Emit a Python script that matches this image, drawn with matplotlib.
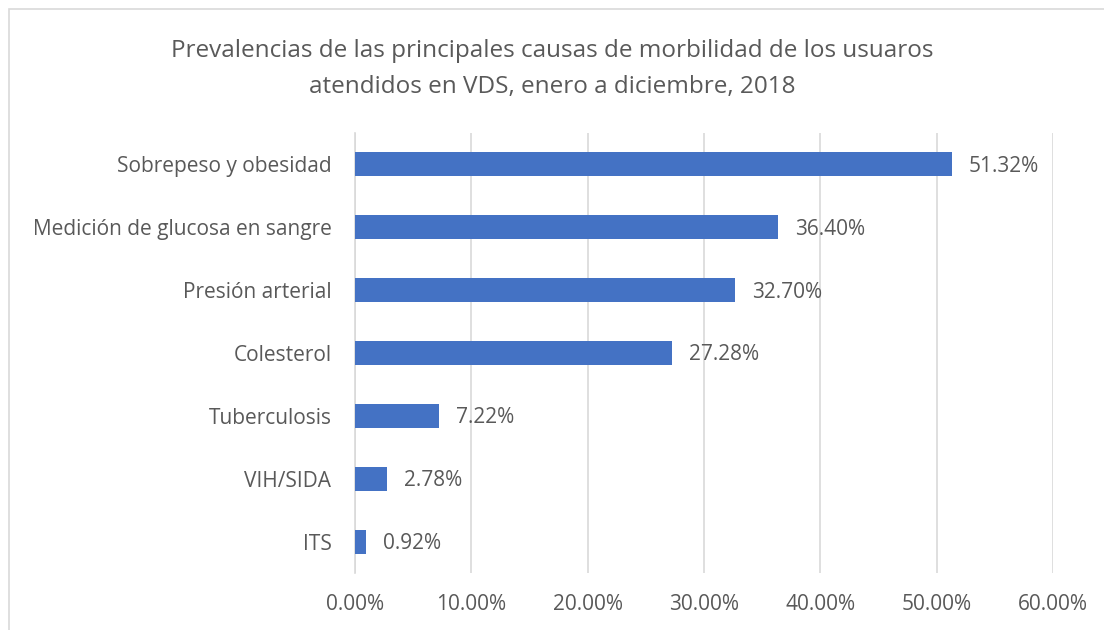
import matplotlib.pyplot as plt
from matplotlib.patches import Rectangle

# - DATA - #
causes = ["Sobrepeso y obesidad", "Medición de glucosa en sangre", "Presión arterial",
          "Colesterol", "Tuberculosis", "VIH/SIDA", "ITS"]
prevalence = [51.32, 36.40, 32.70, 27.28, 7.22, 2.78, 0.92]
xticks = [0, 10, 20, 30, 40, 50, 60]

title = ("Prevalencias de las principales causas de morbilidad de los usuaros\n"
         "atendidos en VDS, enero a diciembre, 2018")

txt = "#595959"
bar_col = "#4472C4"
grid_col = "#D9D9D9"

plt.rcParams['font.family'] = ['Open Sans', 'DejaVu Sans']

fig = plt.figure(figsize=(11.04, 6.3), dpi=100)
ax = fig.add_axes([355 / 1104, 1 - 573 / 630, (1053 - 355) / 1104, (573 - 133) / 630])

# chart area border (partly off the picture, like the screenshot)
fig.patches.append(Rectangle((9 / 1104, -0.05), 1.2, 1 - 9 / 630 + 0.05, transform=fig.transFigure,
                             fill=False, edgecolor=grid_col, linewidth=1.2))

y = list(range(len(causes)))[::-1]
ax.barh(y, prevalence, height=0.38, color=bar_col, zorder=3)
for yi, v in zip(y, prevalence):
    ax.text(v + 1.45, yi - 0.03, f"{v:.2f}%", va="center", ha="left", fontsize=15, color=txt)

ax.set_xlim(0, 60)
ax.set_ylim(-0.5, len(causes) - 0.5)
ax.set_xticks(xticks)
ax.set_xticklabels([f"{t:.2f}%" for t in xticks])
ax.set_yticks(y)
ax.set_yticklabels(causes)
ax.tick_params(axis="both", length=0, labelsize=15, labelcolor=txt)
ax.tick_params(axis="x", pad=15)
ax.tick_params(axis="y", pad=17)
ax.grid(axis="x", color=grid_col, linewidth=1.2, zorder=0)
for s in ["top", "right", "bottom"]:
    ax.spines[s].set_visible(False)
ax.spines["left"].set_color(grid_col)
ax.spines["left"].set_linewidth(1.2)

fig.text(0.5, 1 - 69 / 630, title, ha="center", va="center", fontsize=17.5, color=txt,
         linespacing=1.62)

plt.savefig("out.png", dpi=100)
